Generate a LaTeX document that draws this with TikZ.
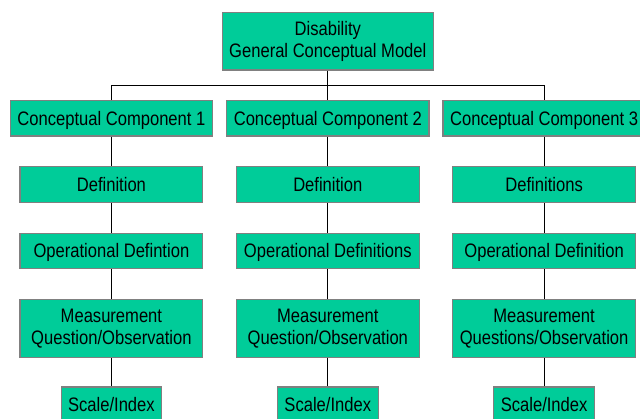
\documentclass[tikz,border=0pt]{standalone}
\usepackage{fontspec}
\setmainfont{Liberation Sans}[FakeStretch=0.85]
\definecolor{boxfill}{HTML}{00CC99}
\definecolor{boxline}{HTML}{808080}
\begin{document}
\begin{tikzpicture}[x=1bp,y=-1bp,
  box/.style={draw=boxline, fill=boxfill, line width=1.2bp, inner sep=0pt,
    text=black, align=center, font=\fontsize{19.5bp}{22.3bp}\selectfont},
  oneline/.style={text height=14bp, text depth=0pt},
  topbox/.style={box, minimum width=211bp, minimum height=57.7bp},
  compbox/.style={box, oneline, minimum width=202.4bp, minimum height=35.3bp},
  defbox/.style={box, oneline, minimum width=182.8bp, minimum height=35.4bp},
  measbox/.style={box, minimum width=182.8bp, minimum height=58bp},
  scalebox/.style={box, oneline, minimum width=100.6bp, minimum height=35bp},
  conn/.style={draw=black, line width=1bp}]
\useasboundingbox (0,0) rectangle (640,418);
\clip (0,0) rectangle (640,418);

% root of the tree
\node[topbox] (top) at (327.8,41.2) {Disability\\General Conceptual Model};

% conceptual components
\node[compbox] (c1) at (111.4,118.4) {Conceptual Component 1};
\node[compbox] (c2) at (327.8,118.4) {Conceptual Component 2};
\node[compbox] (c3) at (544.1,118.4) {Conceptual Component 3};

% definitions
\node[defbox] (d1) at (111.4,184.5) {Definition};
\node[defbox] (d2) at (327.8,184.5) {Definition};
\node[defbox] (d3) at (544.1,184.5) {Definitions};

% operational definitions
\node[defbox] (o1) at (111.4,250.8) {Operational Defintion};
\node[defbox] (o2) at (327.8,250.8) {Operational Definitions};
\node[defbox] (o3) at (544.1,250.8) {Operational Definition};

% measurement
\node[measbox] (m1) at (111.4,328.3) {Measurement\\Question/Observation};
\node[measbox] (m2) at (327.8,328.3) {Measurement\\Question/Observation};
\node[measbox] (m3) at (544.1,328.3) {Measurement\\Questions/Observation};

% scale / index
\node[scalebox] (s1) at (111.4,404.5) {Scale/Index};
\node[scalebox] (s2) at (327.8,404.5) {Scale/Index};
\node[scalebox] (s3) at (544.1,404.5) {Scale/Index};

% connectors
\coordinate (bar) at (327.8,85.5);
\draw[conn] (top) -- (bar);
\draw[conn] (c1.north) |- (bar) -| (c3.north);
\draw[conn] (bar) -- (c2);
\foreach \i in {1,2,3}
  \draw[conn] (c\i) -- (d\i) -- (o\i) -- (m\i) -- (s\i);
\end{tikzpicture}
\end{document}
